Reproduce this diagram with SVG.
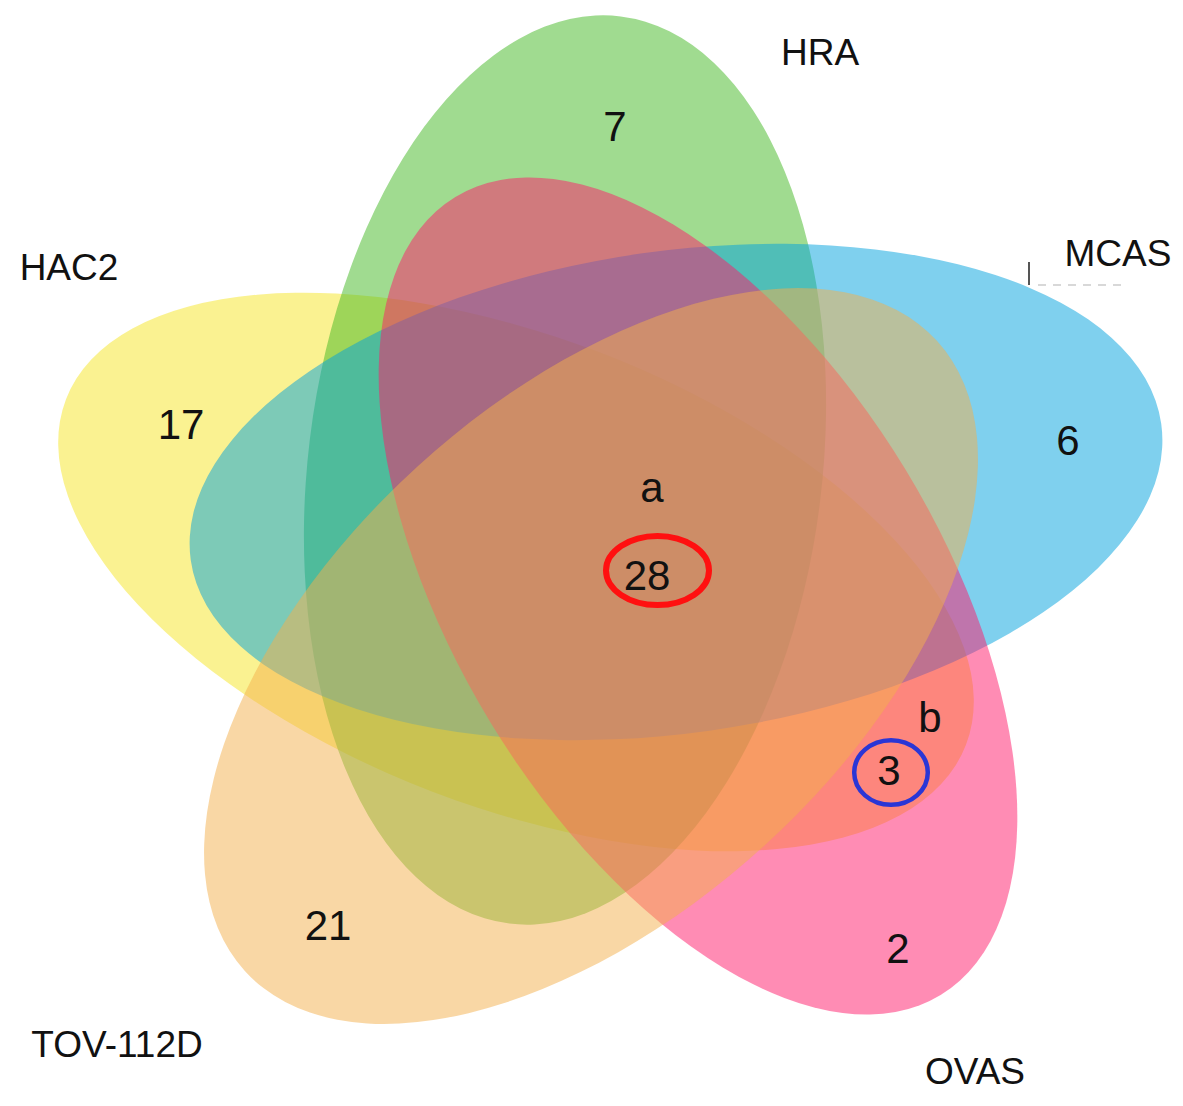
<svg xmlns="http://www.w3.org/2000/svg" width="1183" height="1106" viewBox="0 0 1183 1106">
<style>
.set{fill-opacity:0.5;stroke:none}
.lbl{font-family:"Liberation Sans",Arial,sans-serif;font-size:37px;fill:#111;text-anchor:middle}
.num{font-family:"Liberation Sans",Arial,sans-serif;font-size:42px;fill:#111;text-anchor:middle}
.mark{fill:none}
</style>
<rect width="1183" height="1106" fill="#ffffff"/>
<g id="sets">
<g id="set-HAC2"><ellipse class="set" cx="516" cy="572" rx="482" ry="235" transform="rotate(21 516 572)" fill="#f5e523"/></g>
<g id="set-HRA"><ellipse class="set" cx="565" cy="470" rx="257" ry="457" transform="rotate(7 565 470)" fill="#41b721"/></g>
<g id="set-MCAS"><ellipse class="set" cx="676" cy="492" rx="490" ry="241" transform="rotate(-8 676 492)" fill="#00a1dd"/></g>
<g id="set-OVAS"><ellipse class="set" cx="698" cy="596" rx="467" ry="243" transform="rotate(58.7 698 596)" fill="#ff1969"/></g>
<g id="set-TOV"><ellipse class="set" cx="591" cy="656" rx="468" ry="257" transform="rotate(-42.3 591 656)" fill="#f3af4b"/></g>
</g>
<g id="connectors">
<line x1="1029" y1="262" x2="1029" y2="285" stroke="#555" stroke-width="2"/>
<line x1="1038" y1="285" x2="1128" y2="285" stroke="#ccc" stroke-width="1.5" stroke-dasharray="8 7"/>
</g>
<g id="labels">
<text class="lbl" x="820" y="65">HRA</text>
<text class="lbl" x="69" y="280">HAC2</text>
<text class="lbl" x="1118" y="266">MCAS</text>
<text class="lbl" x="117" y="1057">TOV-112D</text>
<text class="lbl" x="975" y="1084">OVAS</text>
</g>
<g id="counts">
<text class="num" x="615" y="141">7</text>
<text class="num" x="181" y="439">17</text>
<text class="num" x="1068" y="455">6</text>
<text class="num" x="652" y="502">a</text>
<text class="num" x="647" y="590">28</text>
<text class="num" x="930" y="732">b</text>
<text class="num" x="889" y="785">3</text>
<text class="num" x="328" y="940">21</text>
<text class="num" x="898" y="963">2</text>
</g>
<g id="highlights">
<ellipse class="mark" cx="657.5" cy="570.5" rx="51.5" ry="34.5" stroke="#ff1010" stroke-width="6"/>
<ellipse class="mark" cx="891" cy="772.5" rx="36.8" ry="32.3" stroke="#2a36d6" stroke-width="4.5"/>
</g>
</svg>
